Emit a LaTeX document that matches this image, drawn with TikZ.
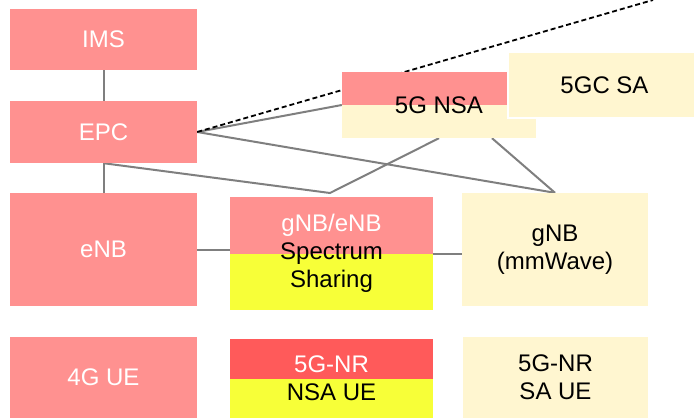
\documentclass[tikz,border=0pt]{standalone}
\usepackage{fontspec}
\setmainfont{Liberation Sans}
\usepackage{xcolor}
\usetikzlibrary{backgrounds}
\definecolor{salmon}{HTML}{FF9190}
\definecolor{nrred}{HTML}{FF5A5A}
\definecolor{lemon}{HTML}{F7FF38}
\definecolor{cream}{HTML}{FFF6D0}
\definecolor{wiregray}{HTML}{7F7F7F}

\begin{document}
\begin{tikzpicture}[x=1pt,y=-1pt,
	box/.style={rectangle, inner sep=0pt, align=center, font=\fontsize{24}{28}\selectfont},
	pinkbox/.style={box, fill=salmon, text=white},
	creambox/.style={box, fill=cream, text=black},
	halves/.style 2 args={box, fill=#1, text=black, path picture={\fill[#2] (path picture bounding box.west) rectangle (path picture bounding box.south east);}},
	wire/.style={draw=wiregray, line width=2pt}]
		\useasboundingbox (0,0) rectangle (694,418);
		
		% 4G column
		\node[pinkbox, minimum width=187pt, minimum height=61pt] (ims) at (103.5,39.5) {IMS};
		\node[pinkbox, minimum width=187pt, minimum height=62pt] (epc) at (103.5,132) {EPC};
		\node[pinkbox, minimum width=187pt, minimum height=113pt] (enb) at (103.5,249.5) {eNB};
		\node[pinkbox, minimum width=187pt, minimum height=81pt] (ue4g) at (103.5,377.5) {4G UE};
		
		% shared / 5G
		\node[halves={salmon}{lemon}, minimum width=203pt, minimum height=113pt] (share) at (331.5,253.5) {\textcolor{white}{gNB/eNB}\\Spectrum\\Sharing};
		\node[halves={nrred}{lemon}, minimum width=203pt, minimum height=79pt] (nsaue) at (331.5,378.5) {\textcolor{white}{5G-NR}\\NSA UE};
		\node[creambox, minimum width=186pt, minimum height=113pt] (gnb) at (555,249.5) {\raisebox{-4pt}{gNB}\\\raisebox{-4pt}{(mmWave)}};
		\node[creambox, minimum width=185pt, minimum height=81pt] (saue) at (555.5,377.5) {5G-NR\\SA UE};
		
		% cores
		\node[halves={salmon}{cream}, minimum width=194pt, minimum height=66pt] (nsa) at (439,105) {5G NSA};
		\node[creambox, draw=white, line width=2pt, minimum width=193pt, minimum height=66pt] (sa) at (604.5,85) {5GC SA};
		
		\coordinate (fork) at (330,193);
		\coordinate (sky) at (653,0);
		
		\begin{pgfonlayer}{background}
		\draw[wire] (ims.south) -- (epc.north);
		\draw[wire] (epc.south) -- (enb.north);
		\draw[wire] (epc.east) -- (nsa.west);
		\draw[wire] (epc.east) -- (gnb.north);
		\draw[wire] (epc.south) -- (fork) -- (nsa.south);
		\draw[wire] ([xshift=53pt]nsa.south) -- (gnb.north);
		\draw[wire] (enb.east) -- (enb.east -| share.west);
		\draw[wire] (share.east) -- (share.east -| gnb.west);
		\draw[line width=1.8pt, dash pattern=on 5pt off 3pt] (epc.east) -- (sky);
		\end{pgfonlayer}
\end{tikzpicture}
\end{document}
